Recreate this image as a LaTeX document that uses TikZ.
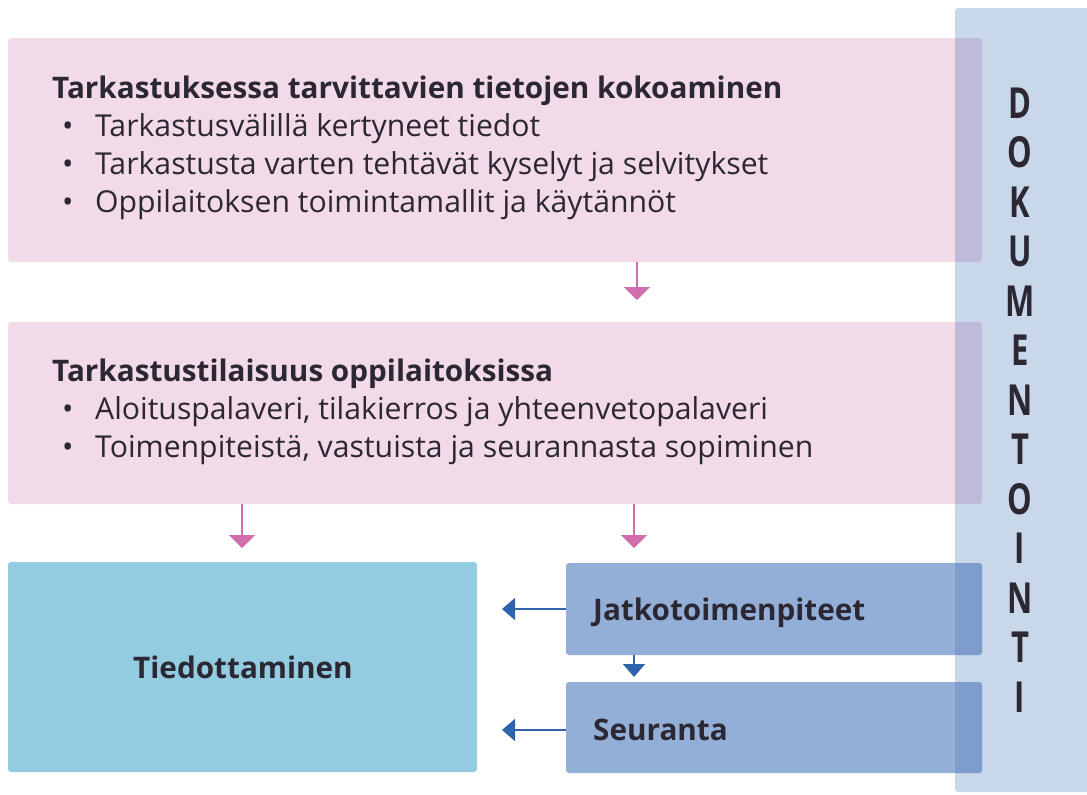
\documentclass[tikz,border=0pt]{standalone}
\usepackage{fontspec}
\setmainfont{Open Sans}
\usetikzlibrary{arrows.meta}
\definecolor{pinkbox}{HTML}{F3DAE8}
\definecolor{colbg}{HTML}{C9D7EA}
\definecolor{pinkover}{HTML}{BFBADA}
\definecolor{tealbox}{HTML}{93CCE0}
\definecolor{bluebox}{HTML}{93AFD7}
\definecolor{blueover}{HTML}{7F9DCC}
\definecolor{pinkarrow}{HTML}{D26CAC}
\definecolor{bluearrow}{HTML}{2F63AD}
\definecolor{txt}{HTML}{2B2833}
\begin{document}
\begin{tikzpicture}[x=1pt,y=-1pt,
  box/.style={inner sep=0pt, outer sep=0pt, rounded corners=3pt, draw=none},
  body/.style={inner sep=0pt, anchor=base west, text=txt, font=\fontsize{30.2}{34}\selectfont},
  head/.style={inner sep=0pt, anchor=base west, text=txt, font=\fontsize{29.7}{34}\selectfont\bfseries},
  letter/.style={inner sep=0pt, anchor=center, text=txt, font=\fontsize{31}{32}\selectfont\bfseries},
  parrow/.style={draw=pinkarrow, line width=1.8pt, -{Triangle[width=26pt,length=13pt]}},
  barrow/.style={draw=bluearrow, line width=1.5pt, -{Triangle[width=22pt,length=13pt]}}
]
\useasboundingbox (0,0) rectangle (1087,795);
\fill[white] (0,0) rectangle (1087,795);
% column
\node[box, fill=colbg, minimum width=140pt, minimum height=784pt] (col) at (1025,400) {};
% boxes
\node[box, fill=pinkbox, minimum width=974pt, minimum height=224pt] (b1) at (495,150) {};
\node[box, fill=pinkbox, minimum width=974pt, minimum height=182pt] (b2) at (495,413) {};
\node[box, fill=tealbox, minimum width=469pt, minimum height=210pt] (tied) at (242.5,667) {};
\node[box, fill=bluebox, minimum width=416pt, minimum height=92pt] (jatko) at (774,609) {};
\node[box, fill=bluebox, minimum width=416pt, minimum height=91pt] (seur) at (774,727.5) {};
% overlaps
\begin{scope}
\clip (col.north west) rectangle (col.south east);
\fill[pinkover, rounded corners=3pt] (b1.north west) rectangle (b1.south east);
\fill[pinkover, rounded corners=3pt] (b2.north west) rectangle (b2.south east);
\fill[blueover, rounded corners=3pt] (jatko.north west) rectangle (jatko.south east);
\fill[blueover, rounded corners=3pt] (seur.north west) rectangle (seur.south east);
\end{scope}
% texts box1
\node[head] (h1) at (52,98) {Tarkastuksessa tarvittavien tietojen kokoaminen};
\node[body] (l11) at (62,136) {\makebox[33pt][l]{•}Tarkastusvälillä kertyneet tiedot};
\node[body] (l12) at (62,174) {\makebox[33pt][l]{•}Tarkastusta varten tehtävät kyselyt ja selvitykset};
\node[body] (l13) at (62,212) {\makebox[33pt][l]{•}Oppilaitoksen toimintamallit ja käytännöt};
% texts box2
\node[head] (h2) at (52,381) {Tarkastustilaisuus oppilaitoksissa};
\node[body] (l21) at (62,419) {\makebox[33pt][l]{•}Aloituspalaveri, tilakierros ja yhteenvetopalaveri};
\node[body] (l22) at (62,457) {\makebox[33pt][l]{•}Toimenpiteistä, vastuista ja seurannasta sopiminen};
% lower texts
\node[head, anchor=base] (th) at (243,678) {Tiedottaminen};
\node[head] (jt) at (593,620) {Jatkotoimenpiteet};
\node[head] (st) at (593,740) {Seuranta};
% vertical word
\foreach \c [count=\i from 0] in {D,O,K,U,M,E,N,T,O,I,N,T,I}
  \node[letter] (L\i) at (1020,{103+49.5*\i}) {\scalebox{1}[1.38]{\c}};
% arrows
\coordinate (a1) at (637,300);
\draw[parrow] (b1.south -| a1) -- (a1);
\coordinate (a2) at (242,548);
\coordinate (a3) at (634,548);
\draw[parrow] (b2.south -| a2) -- (a2);
\draw[parrow] (b2.south -| a3) -- (a3);
\coordinate (a4) at (502,609);
\coordinate (a5) at (502,730);
\draw[barrow] (jatko.west) -- (a4);
\draw[barrow] (seur.west |- a5) -- (a5);
\coordinate (a6) at (634,677);
\draw[barrow] (jatko.south -| a6) -- (a6);
\end{tikzpicture}
\end{document}
